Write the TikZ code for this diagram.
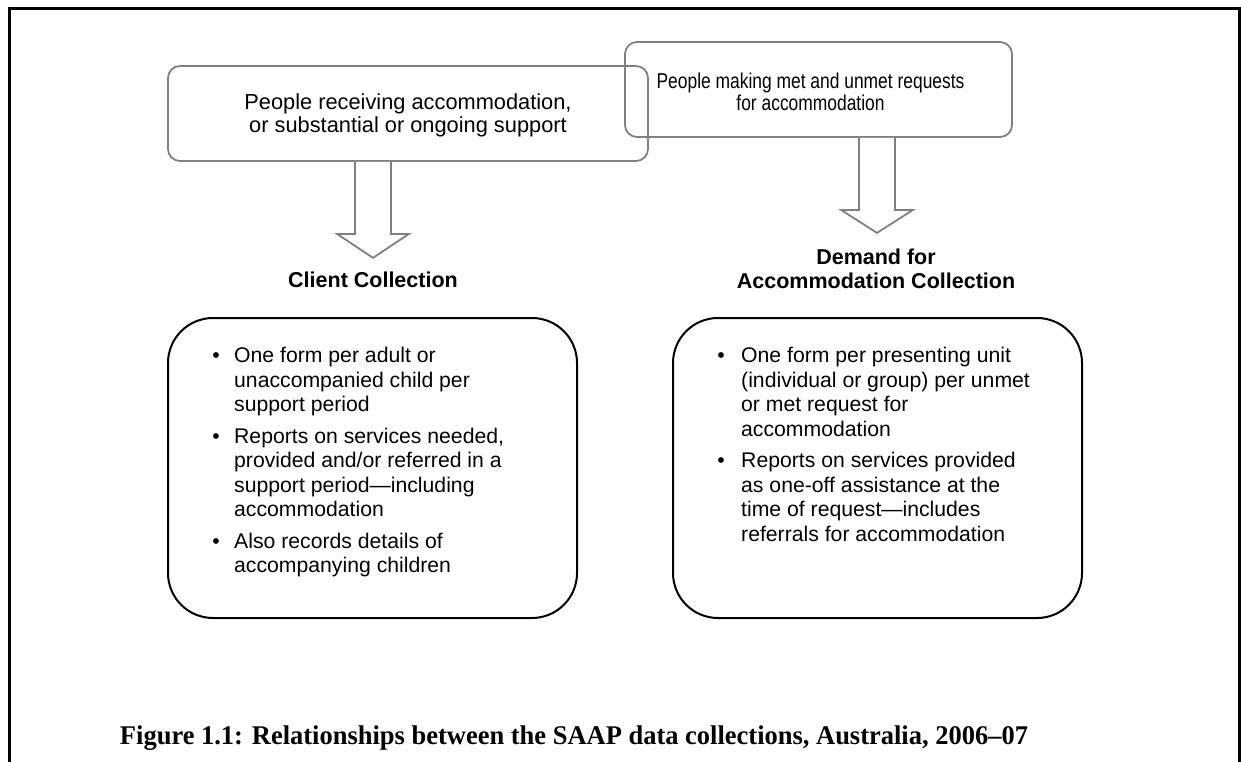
\documentclass[tikz,border=0pt]{standalone}
\usepackage{fontspec}
\usepackage{graphicx}
\setmainfont{Liberation Sans}
\newfontfamily\capfont{Liberation Serif}
\usetikzlibrary{calc}
\definecolor{boxgray}{RGB}{128,128,128}
\begin{document}
\begin{tikzpicture}[x=1pt,y=-1pt,
  topbox/.style={draw=boxgray, line width=1.8pt, rounded corners=12pt, inner sep=0pt},
  listbox/.style={draw=black, line width=2pt, rounded corners=45pt, inner sep=0pt},
  blockarrow/.style={draw=boxgray, line width=1.8pt, fill=white, line join=miter},
  toptext/.style={anchor=base, inner sep=0pt},
  lbl/.style={anchor=base, inner sep=0pt, font=\bfseries\fontsize{21.5}{24}\selectfont},
  listtext/.style={anchor=base west, inner sep=0pt, font=\fontsize{21.2}{24.5}\selectfont},
]
\useasboundingbox (0,0) rectangle (1241,762);
% outer frame (open at bottom)
\draw[line width=3pt] (9,762) -- (9,9) -- (1239,9) -- (1239,762);

% source boxes
\node[topbox, minimum width=480pt, minimum height=95pt] (srcA) at (408,113.5) {};
\node[topbox, minimum width=387pt, minimum height=95pt] (srcB) at (818.5,89.5) {};
\node[toptext, font=\fontsize{21.8}{22.7}\selectfont] (txtA) at (408,110)
  {\begin{tabular}[t]{@{}c@{}}People receiving accommodation,\\ or substantial or ongoing support\end{tabular}};
\node[toptext, font=\fontsize{21.5}{21.5}\selectfont] (txtB) at (810.5,88.3)
  {\scalebox{0.81}[1]{\begin{tabular}[t]{@{}c@{}}People making met and unmet requests\\ for accommodation\end{tabular}}};

% labels
\node[lbl] (lblC) at (373,287) {Client Collection};
\node[lbl] (lblD) at (876,264) {\begin{tabular}[t]{@{}c@{}}Demand for\\ Accommodation Collection\end{tabular}};

% block arrows
\coordinate (aTop) at (lblC |- srcA.south);
\coordinate (bTop) at (877,0 |- srcB.south);
\draw[blockarrow] ($(aTop)+(-18,0)$) -- ++(0,72) -- ++(-18,0) -- ++(36,24) -- ++(36,-24) -- ++(-18,0) -- ++(0,-72);
\draw[blockarrow] ($(bTop)+(-18,0)$) -- ++(0,72) -- ++(-18,0) -- ++(36,23) -- ++(36,-23) -- ++(-18,0) -- ++(0,-72);

% lower boxes
\node[listbox, minimum width=409pt, minimum height=300pt] (boxC) at (372.5,468) {};
\node[listbox, minimum width=409pt, minimum height=300pt] (boxD) at (877.5,468) {};

\node[listtext] (listC) at (198,362.7) {\begin{tabular}[t]{@{}l@{}l@{}}
\makebox[36pt]{\textbullet} & One form per adult or\\
 & unaccompanied child per\\
 & support period\\[7pt]
\makebox[36pt]{\textbullet} & Reports on services needed,\\
 & provided and/or referred in a\\
 & support period—including\\
 & accommodation\\[7pt]
\makebox[36pt]{\textbullet} & Also records details of\\
 & accompanying children
\end{tabular}};

\node[listtext] (listD) at (701,362.7) {\begin{tabular}[t]{@{}l@{}l@{}}
\makebox[40pt]{\textbullet} & One form per presenting unit\\
 & (individual or group) per unmet\\
 & or met request for\\
 & accommodation\\[7pt]
\makebox[40pt]{\textbullet} & Reports on services provided\\
 & as one-off assistance at the\\
 & time of request—includes\\
 & referrals for accommodation
\end{tabular}};

% caption
\node[anchor=base, inner sep=0pt] (cap) at (574,744)
  {\capfont\bfseries\fontsize{27}{30}\selectfont\resizebox{908pt}{\height}{Figure 1.1: Relationships between the SAAP data collections, Australia, 2006–07}};
\end{tikzpicture}
\end{document}
